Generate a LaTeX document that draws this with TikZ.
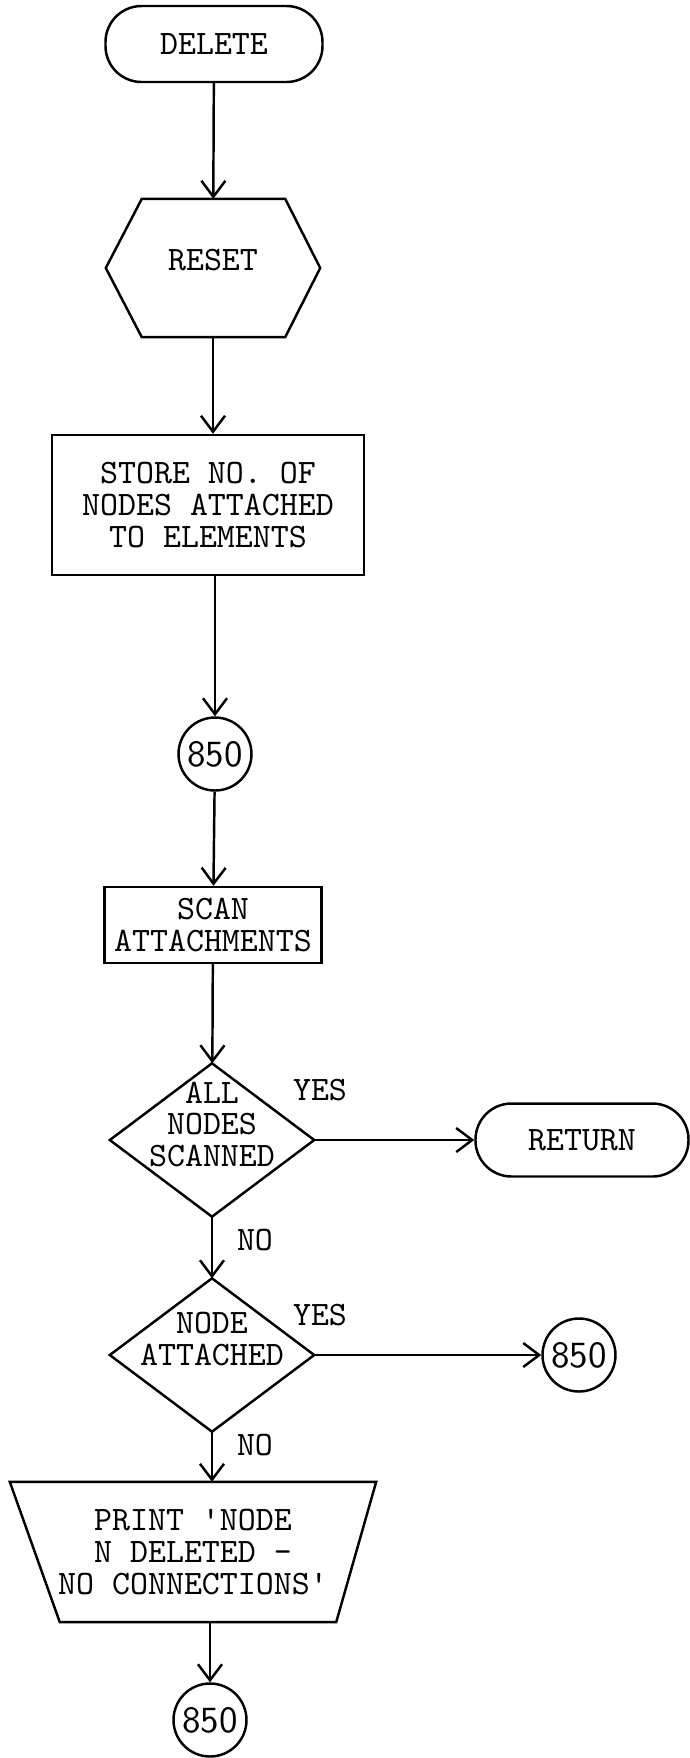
\documentclass[tikz,border=0pt]{standalone}
\usepackage{tikz}
\usetikzlibrary{arrows.meta}
\newcommand{\fTw}{\fontsize{9.75}{9}\selectfont\ttfamily}
\newcommand{\fNum}{\fontsize{10.5}{12}\selectfont\sffamily}
\tikzset{every node/.style={font=\fTw},
  chart/.style={draw=black,line width=0.7pt},
  shape box/.style={inner sep=0.4mm,align=center}}

\begin{document}
\begin{tikzpicture}[x=0.1mm,y=-0.1mm,
    txt/.style={inner sep=0pt,outer sep=0pt},
    term/.style={chart,shape box,rounded corners=3.6mm,minimum width=21.7mm,minimum height=7.6mm},
    prep/.style={shape box,text depth=1.6mm,minimum width=21.3mm,minimum height=13.7mm},
    proc/.style={chart,shape box},
    dec/.style={shape box,text depth=3.2mm,minimum width=20.3mm,minimum height=15.2mm},
    outp/.style={shape box,minimum width=36.5mm,minimum height=13.9mm},
    conn/.style={chart,circle,inner sep=0pt,minimum size=7.3mm,font=\fNum},
    lnk/.style={chart},
    arr/.style={lnk,-{Straight Barb[length=1.6mm,width=2.4mm]}}]
  \path[use as bounding box] (0,0) rectangle (690,1758);

  % main column, x = 213
  \node[term] (delete) at (214,44) {DELETE};
  \node[prep] (reset) at (213,268) {RESET};
  \draw[lnk] (reset.west) -- ([xshift=3.6mm]reset.north west) -- ([xshift=-3.5mm]reset.north east)
    -- (reset.east) -- ([xshift=-3.5mm]reset.south east) -- ([xshift=3.6mm]reset.south west) -- cycle;
  \node[proc,minimum width=31.2mm,minimum height=14mm] (store) at (208,505)
    {STORE NO. OF\\NODES ATTACHED\\TO ELEMENTS};
  \node[conn] (c850a) at (215,754) {850};
  \node[proc,minimum width=21.7mm,minimum height=7.6mm] (scan) at (213,925)
    {SCAN\\ATTACHMENTS};

  % decisions
  \node[dec] (allq) at (212,1140) {ALL\\NODES\\SCANNED};
  \draw[lnk] (allq.north) -- (allq.east) -- (allq.south) -- (allq.west) -- cycle;
  \node[term,minimum width=21.3mm,minimum height=7.3mm] (return) at (582,1140) {RETURN};
  \node[txt] (yes1) at (320,1090) {YES};
  \node[txt] (no1) at (255,1240) {NO};

  \node[dec] (attq) at (212,1355) {NODE\\ATTACHED};
  \draw[lnk] (attq.north) -- (attq.east) -- (attq.south) -- (attq.west) -- cycle;
  \node[conn] (c850b) at (579,1355) {850};
  \node[txt] (yes2) at (320,1315) {YES};
  \node[txt] (no2) at (255,1445) {NO};

  % print message, then back to 850
  \node[outp] (print) at (193,1552) {PRINT 'NODE\\N DELETED -\\NO CONNECTIONS'};
  \draw[lnk] (print.north west) -- (print.north east) -- ([xshift=-4mm]print.south east)
    -- ([xshift=5mm]print.south west) -- cycle;
  \node[conn] (c850c) at (210,1720) {850};

  \draw[arr] (delete) -- (reset);
  \draw[arr] (reset.south) -- (reset.south |- store.north);
  \draw[arr] (store.south -| c850a) -- (c850a);
  \draw[arr] (c850a) -- (scan);
  \draw[arr] (scan) -- (allq);
  \draw[arr] (allq.east) -- (return);
  \draw[arr] (allq.south) -- (attq.north);
  \draw[arr] (attq.east) -- (c850b);
  \draw[arr] (attq.south) -- (attq.south |- print.north);
  \draw[arr] (c850c |- print.south) -- (c850c);
\end{tikzpicture}
\end{document}
